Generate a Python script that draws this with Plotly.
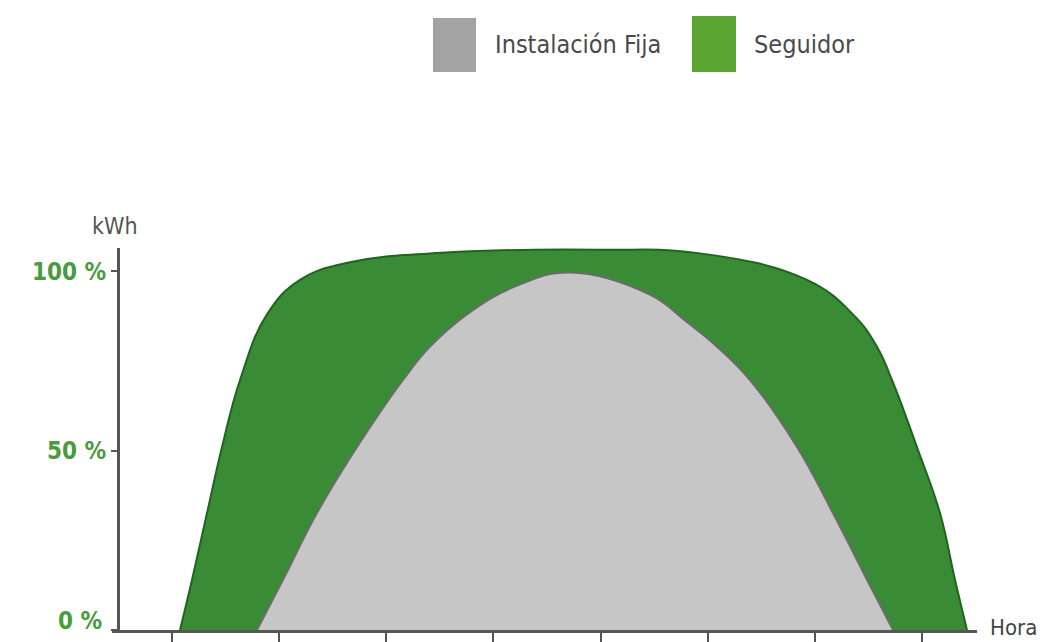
import plotly.graph_objects as go

# Hour-tick positions (unlabelled) and curve samples
tick_positions = [0, 1, 2, 3, 4, 5, 6, 7]

seguidor_x = [0.075, 0.187, 0.327, 0.467, 0.635, 0.887, 1.195, 1.661, 2.595, 3.995,
              4.928, 5.927, 6.356, 6.580, 6.720, 6.953, 7.168, 7.308, 7.420]
seguidor_y = [0, 14, 32.6, 51, 69.7, 88, 97.6, 102.5, 105.3, 106,
              105, 97.6, 88, 79, 69.7, 51, 32.6, 14, 0]

fija_x = [0.793, 1.036, 1.353, 1.727, 2.156, 2.408, 2.753, 3.220, 3.715,
          4.461, 4.800, 5.087, 5.395, 5.834, 6.169, 6.487, 6.730]
fija_y = [0, 14, 32.6, 51, 69.7, 79, 88, 96, 99.7,
          93.5, 86, 79, 69.7, 51, 32.6, 14, 0]

y_ticks = [0, 50, 100]
y_tick_labels = ["0 %", "50 %", "100 %"]

legend_names = ["Instalación Fija", "Seguidor"]

GREEN_FILL = "#3a8b36"
GREEN_LINE = "#1f661d"
GRAY_FILL = "#c6c6c6"
GRAY_LINE = "#6b6b6b"
AXIS = "#555555"
LABEL_GREEN = "#4a9a3f"
LABEL_FONT = "DejaVu Sans Condensed, Liberation Sans Narrow, sans-serif"

fig = go.Figure()
fig.add_trace(go.Scatter(
    x=seguidor_x, y=seguidor_y, mode="lines", name=legend_names[1],
    line=dict(shape="spline", smoothing=1.2, color=GREEN_LINE, width=2),
    fill="tozeroy", fillcolor=GREEN_FILL, showlegend=False, hoverinfo="skip"))
fig.add_trace(go.Scatter(
    x=fija_x, y=fija_y, mode="lines", name=legend_names[0],
    line=dict(shape="spline", smoothing=1.2, color=GRAY_LINE, width=2),
    fill="tozeroy", fillcolor=GRAY_FILL, showlegend=False, hoverinfo="skip"))

W, H = 1041, 642
L, R, T, B = 112, 64, 248, 12
pw = W - L - R
ph = H - T - B

fig.update_layout(
    width=W, height=H,
    margin=dict(l=L, r=R, t=T, b=B, autoexpand=False),
    paper_bgcolor="white", plot_bgcolor="white",
    showlegend=False,
)
fig.update_xaxes(
    range=[-0.56, -0.56 + pw / 107.14], showgrid=False, zeroline=False, automargin=False,
    showline=True, linecolor=AXIS, linewidth=3,
    ticks="outside", tickvals=tick_positions, ticklen=12, tickwidth=2, tickcolor=AXIS,
    showticklabels=False,
)
# the bottom label ("0 %") sits slightly above its tick, drawn separately below
fig.update_yaxes(
    range=[0, 106.5], showgrid=False, zeroline=False, automargin=False,
    anchor="free", position=6 / pw,
    showline=True, linecolor=AXIS, linewidth=3,
    ticks="outside", tickvals=y_ticks, ticktext=[""] + y_tick_labels[1:],
    ticklen=6, tickwidth=2, tickcolor=AXIS,
    tickfont=dict(family=LABEL_FONT, size=24, color=LABEL_GREEN, weight="bold"),
)
fig.add_annotation(xref="paper", yref="paper", x=(104 - L) / pw, y=(H - B - 621) / ph,
                   text=y_tick_labels[0], showarrow=False, xanchor="right", yanchor="middle",
                   font=dict(family=LABEL_FONT, size=24, color=LABEL_GREEN, weight="bold"))

# legend swatches + labels
fig.add_shape(type="rect", xref="paper", yref="paper",
              x0=(433 - L) / pw, x1=(476 - L) / pw,
              y0=(H - B - 72) / ph, y1=(H - B - 18) / ph,
              fillcolor="#a3a3a3", line=dict(width=0))
fig.add_shape(type="rect", xref="paper", yref="paper",
              x0=(692 - L) / pw, x1=(736 - L) / pw,
              y0=(H - B - 72) / ph, y1=(H - B - 16) / ph,
              fillcolor="#5aa532", line=dict(width=0))
fig.add_annotation(xref="paper", yref="paper", x=(493 - L) / pw, y=(H - B - 44) / ph,
                   text=legend_names[0], showarrow=False, xanchor="left", yanchor="middle",
                   font=dict(family=LABEL_FONT, size=25, color="#4a4a4a"))
fig.add_annotation(xref="paper", yref="paper", x=(752 - L) / pw, y=(H - B - 44) / ph,
                   text=legend_names[1], showarrow=False, xanchor="left", yanchor="middle",
                   font=dict(family=LABEL_FONT, size=25, color="#4a4a4a"))

# axis titles
fig.add_annotation(xref="paper", yref="paper", x=(90 - L) / pw, y=(H - B - 226) / ph,
                   text="kWh", showarrow=False, xanchor="left", yanchor="middle",
                   font=dict(family=LABEL_FONT, size=23, color="#555555"))
fig.add_annotation(xref="paper", yref="paper", x=(988 - L) / pw, y=(H - B - 627) / ph,
                   text="Hora", showarrow=False, xanchor="left", yanchor="middle",
                   font=dict(family=LABEL_FONT, size=22, color="#444444"))

fig.write_html("out.html")
